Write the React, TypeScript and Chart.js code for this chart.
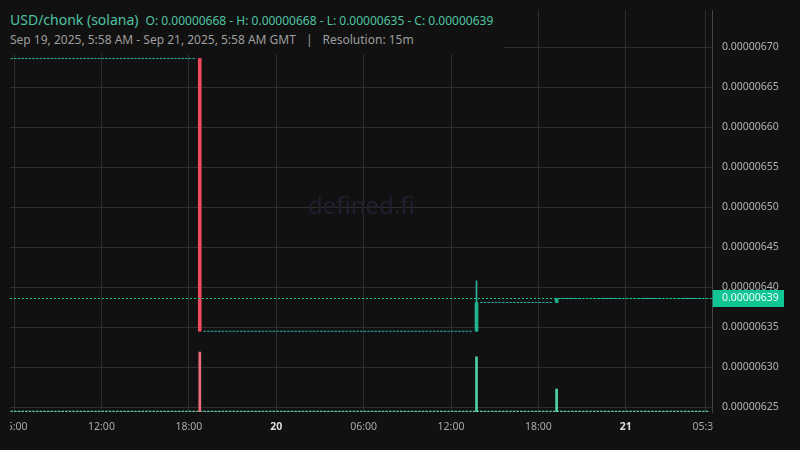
import React, { useEffect, useRef } from "react";
import { Chart, registerables } from "chart.js";

Chart.register(...registerables);

// ---------- texts ----------
const pairName = "USD/chonk (solana)";
const ohlcText = "O: 0.00000668 - H: 0.00000668 - L: 0.00000635 - C: 0.00000639";
const rangeText = "Sep 19, 2025, 5:58 AM - Sep 21, 2025, 5:58 AM GMT";
const resolutionText = "Resolution: 15m";
const watermark = "defined.fi";

// ---------- data (time = hours since 2025-09-19 00:00 GMT) ----------
// stretches of flat 15m candles (open = high = low = close)
const runStart = [5.75, 19.0, 38.0, 43.5];
const runEnd = [18.5, 37.5, 43.0, 53.75];
const runPrice = [6.686e-6, 6.345e-6, 6.381e-6, 6.386e-6];

// candles that moved
const candleTime = [18.75, 37.75, 43.25];
const candleOpen = [6.686e-6, 6.345e-6, 6.381e-6];
const candleHigh = [6.686e-6, 6.408e-6, 6.386e-6];
const candleLow = [6.345e-6, 6.345e-6, 6.381e-6];
const candleClose = [6.345e-6, 6.381e-6, 6.386e-6];
const candleVolume = [100, 92, 38];
const flatVolume = 1.2;

// axes
const viewStart = 5.72;
const viewEnd = 53.967;
const priceMin = 6.2441e-6;
const priceMax = 6.7466e-6;
const volumeMax = 670;
const priceTicks = [6.25e-6, 6.3e-6, 6.35e-6, 6.4e-6, 6.45e-6, 6.5e-6, 6.55e-6, 6.6e-6, 6.65e-6, 6.7e-6];
const xTickHours = [6, 12, 18, 24, 30, 36, 42, 48, 53.5];
const xTickLabels = ["06:00", "12:00", "18:00", "20", "06:00", "12:00", "18:00", "21", "05:30"];
const dayLabels = ["20", "21"];

const lastClose = candleClose[candleClose.length - 1];

// ---------- styles ----------
const BG = "#111111";
const UP = "#1fb38f";
const UP_WICK = "#2bb39a";
const DOWN = "#ef4a5b";
const UP_VOL = "#4fd1ab";
const DOWN_VOL = "#f06b7b";
const FLAT = "#2aae9f";
const FONT = "'Noto Sans', sans-serif";

const overlayPlugin = {
  id: "overlay",
  beforeDatasetsDraw(chart: any) {
    const { ctx, chartArea: a } = chart;
    ctx.save();
    ctx.font = `24px ${FONT}`;
    ctx.fillStyle = "#1f1f30";
    ctx.textAlign = "center";
    ctx.textBaseline = "middle";
    ctx.fillText(watermark, (a.left + a.right) / 2, (a.top + a.bottom) / 2 - 4);
    ctx.restore();
  },
  afterDatasetsDraw(chart: any) {
    const { ctx, chartArea: a } = chart;
    const y = Math.round(chart.scales.y.getPixelForValue(lastClose)) + 0.5;
    ctx.save();
    ctx.strokeStyle = "#14c89c";
    ctx.lineWidth = 1;
    ctx.setLineDash([2, 2]);
    ctx.beginPath();
    ctx.moveTo(a.left, y);
    ctx.lineTo(a.right, y);
    ctx.stroke();
    ctx.restore();
  },
  afterDraw(chart: any) {
    const { ctx, chartArea: a } = chart;
    const y = chart.scales.y.getPixelForValue(lastClose);
    ctx.save();
    ctx.fillStyle = "#0fc594";
    ctx.fillRect(a.right, Math.round(y - 8.5), 784 - a.right, 17);
    ctx.fillStyle = "#effff9";
    ctx.font = `10.5px ${FONT}`;
    ctx.textAlign = "left";
    ctx.textBaseline = "middle";
    ctx.fillText(lastClose.toFixed(8), a.right + 9.3, y);
    ctx.restore();
  },
};

export default function App() {
  const canvasRef = useRef<HTMLCanvasElement | null>(null);

  useEffect(() => {
    document.body.style.margin = "0";
    document.body.style.background = BG;
    const canvas = canvasRef.current;
    if (!canvas) return;

    const runDatasets = runStart.map((s, i) => ({
      type: "line" as const,
      label: "flat" + i,
      data: [
        { x: s, y: runPrice[i] },
        { x: runEnd[i], y: runPrice[i] },
      ],
      borderColor: FLAT,
      borderWidth: 1,
      borderDash: [2.6, 1.04],
      pointRadius: 0,
      xAxisID: "x",
      yAxisID: "y",
    }));

    const isUp = (i: number) => candleClose[i] >= candleOpen[i];

    const chart = new Chart(canvas, {
      type: "line",
      data: {
        datasets: [
          {
            type: "bar",
            label: "body",
            data: candleTime.map((t, i) => ({ x: t, y: [candleOpen[i], candleClose[i]] })),
            backgroundColor: candleTime.map((_, i) => (isUp(i) ? UP : DOWN)),
            barThickness: 3,
            grouped: false,
            borderWidth: 0,
            xAxisID: "x",
            yAxisID: "y",
          },
          {
            type: "bar",
            label: "wick",
            data: candleTime.map((t, i) => ({ x: t, y: [candleLow[i], candleHigh[i]] })),
            backgroundColor: candleTime.map((_, i) => (isUp(i) ? UP_WICK : DOWN)),
            barThickness: 1,
            grouped: false,
            borderWidth: 0,
            xAxisID: "x",
            yAxisID: "y",
          },
          {
            type: "bar",
            label: "volume",
            data: candleTime.map((t, i) => ({ x: t, y: candleVolume[i] })),
            backgroundColor: candleTime.map((_, i) => (isUp(i) ? UP_VOL : DOWN_VOL)),
            barThickness: 2,
            grouped: false,
            borderWidth: 0,
            xAxisID: "x",
            yAxisID: "yVol",
          },
          {
            type: "line",
            label: "flatVolume",
            data: [
              { x: runStart[0], y: flatVolume },
              { x: runEnd[runEnd.length - 1], y: flatVolume },
            ],
            borderColor: "#5cc9a7",
            borderWidth: 1.3,
            borderDash: [2.6, 1.04],
            pointRadius: 0,
            xAxisID: "x",
            yAxisID: "yVol",
          },
          ...runDatasets,
        ] as any,
      },
      options: {
        responsive: false,
        animation: false,
        events: [],
        layout: { padding: { left: 10, top: 10, right: 0, bottom: 0 } },
        plugins: { legend: { display: false }, tooltip: { enabled: false } },
        scales: {
          x: {
            type: "linear",
            min: viewStart,
            max: viewEnd,
            offset: false,
            grid: { color: "#2d2d2d", drawTicks: false, offset: false },
            border: { display: false },
            afterBuildTicks: (scale: any) => {
              scale.ticks = xTickHours.map((value) => ({ value }));
            },
            afterFit: (scale: any) => {
              scale.height = 38;
              scale.paddingLeft = 0;
              scale.paddingRight = 0;
              scale.paddingTop = 0;
              scale.paddingBottom = 0;
            },
            afterUpdate: (scale: any) => {
              if (!scale._clipPatched) {
                const orig = scale.drawLabels;
                scale.drawLabels = function (area: any) {
                  const c = this.ctx;
                  c.save();
                  c.beginPath();
                  c.rect(area.left, this.top, area.right - area.left, this.bottom - this.top);
                  c.clip();
                  orig.call(this, area);
                  c.restore();
                };
                scale._clipPatched = true;
              }
            },
            ticks: {
              autoSkip: false,
              maxRotation: 0,
              minRotation: 0,
              padding: 9,
              callback: (_v: any, i: number) => xTickLabels[i],
              color: (ctx: any) => (dayLabels.includes(xTickLabels[ctx.index]) ? "#dedede" : "#a9a9a9"),
              font: (ctx: any) => ({
                family: FONT,
                size: 10.5,
                weight: dayLabels.includes(xTickLabels[ctx.index]) ? "bold" : "normal",
              }),
            },
          },
          y: {
            type: "linear",
            position: "right",
            min: priceMin,
            max: priceMax,
            grid: { color: "#2f2f2f", drawTicks: false },
            border: { display: true, color: "#444444" },
            afterBuildTicks: (scale: any) => {
              scale.ticks = priceTicks.map((value) => ({ value }));
            },
            afterFit: (scale: any) => {
              scale.width = 87.3;
              scale.paddingLeft = 0;
              scale.paddingRight = 0;
              scale.paddingTop = 0;
              scale.paddingBottom = 0;
            },
            ticks: {
              padding: 9.3,
              color: "#b3b3b3",
              font: { family: FONT, size: 10.5 },
              callback: (v: any) => Number(v).toFixed(8),
            },
          },
          yVol: {
            type: "linear",
            display: false,
            min: 0,
            max: volumeMax,
          },
        },
      } as any,
      plugins: [overlayPlugin],
    });

    return () => chart.destroy();
  }, []);

  return (
    <div style={{ position: "relative", width: 800, height: 450, background: BG, fontFamily: FONT }}>
      <canvas ref={canvasRef} width={800} height={450} style={{ display: "block" }} />
      <div
        style={{
          position: "absolute",
          left: 0,
          top: 0,
          height: 54,
          boxSizing: "border-box",
          padding: "0 11px 0 10px",
          background: BG,
          whiteSpace: "nowrap",
        }}
      >
        <div style={{ paddingTop: 12.6, fontSize: 14, lineHeight: "14px", color: "#4fc3a1" }}>
          <span>{pairName}</span>
          <span style={{ fontSize: 12, marginLeft: 7 }}>{ohlcText}</span>
        </div>
        <div style={{ marginTop: 6.7, fontSize: 12, lineHeight: "12px", color: "#9e9e9e" }}>
          <span>{rangeText}</span>
          <span style={{ margin: "0 10px" }}>|</span>
          <span>{resolutionText}</span>
        </div>
      </div>
    </div>
  );
}
